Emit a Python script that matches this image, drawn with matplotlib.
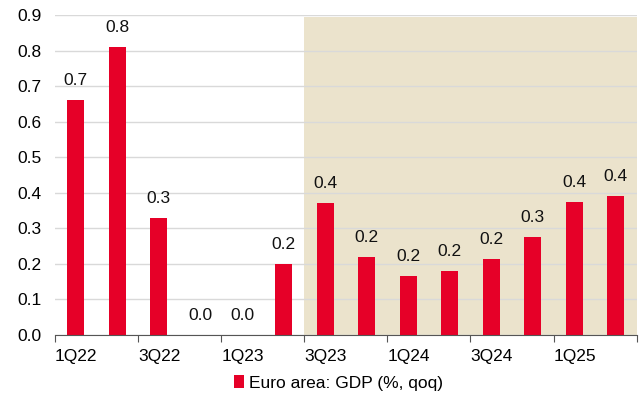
import matplotlib
matplotlib.use("Agg")
import matplotlib.pyplot as plt
import numpy as np

# =========================================================
# DATA
# =========================================================

quarters = ["1Q22", "2Q22", "3Q22", "4Q22", "1Q23", "2Q23", "3Q23",
            "4Q23", "1Q24", "2Q24", "3Q24", "4Q24", "1Q25", "2Q25"]

gdp_qoq = [0.66, 0.81, 0.33, 0.0, 0.0, 0.20, 0.37,
           0.22, 0.165, 0.18, 0.215, 0.275, 0.375, 0.39]

shade_from = "3Q23"
y_ticks = [0.0, 0.1, 0.2, 0.3, 0.4, 0.5, 0.6, 0.7, 0.8, 0.9]

# =========================================================
# STYLE
# =========================================================

plt.rcParams["font.family"] = ["Liberation Sans", "DejaVu Sans"]
fs = 12.5

red = "#e60028"
beige = "#ebe3cc"
grid = "#d9d9d9"

fig = plt.figure(figsize=(6.42, 4.01), dpi=100)
ax = fig.add_axes([0.0857, 0.1646, 0.906, 0.798])

x = np.arange(len(quarters))

# Shaded period
start = quarters.index(shade_from) - 0.5
ax.axvspan(start, len(quarters) - 0.5, ymin=0, ymax=0.895 / 0.9,
           color=beige, lw=0, zorder=0)

# Bars
ax.bar(x, gdp_qoq, width=0.41, color=red, zorder=3,
       label="Euro area: GDP (%, qoq)")

# Value labels
for xi, v in zip(x, gdp_qoq):
    ax.annotate(f"{v:.1f}", (xi, v), xytext=(0, 14),
                textcoords="offset points", ha="center", va="center",
                fontsize=fs, color="#111111", zorder=4)

# Axes
ax.set_xlim(-0.5, len(quarters) - 0.5)
ax.set_ylim(0, 0.9)
ax.set_yticks(y_ticks)
ax.set_yticklabels([f"{t:.1f}" for t in y_ticks])
ax.yaxis.grid(True, color=grid, lw=1, zorder=1)
ax.set_axisbelow(True)

tick_pos = np.arange(-0.5, len(quarters), 2)
ax.set_xticks(tick_pos)
ax.set_xticklabels([quarters[int(p + 0.5)] if p + 0.5 < len(quarters) else ""
                    for p in tick_pos], ha="left")
ax.tick_params(axis="x", length=5, color="#555555", pad=5, labelsize=fs)
ax.tick_params(axis="y", length=0, pad=10, labelsize=fs)

for side in ["left", "right", "top"]:
    ax.spines[side].set_visible(False)
ax.spines["bottom"].set_color("#555555")
ax.spines["bottom"].set_zorder(5)

fig.legend(loc="center", bbox_to_anchor=(0.527, 0.045), frameon=False,
           handlelength=0.6, handleheight=0.8, handletextpad=0.3,
           fontsize=fs)

plt.savefig("out.png", dpi=100)
plt.close()
